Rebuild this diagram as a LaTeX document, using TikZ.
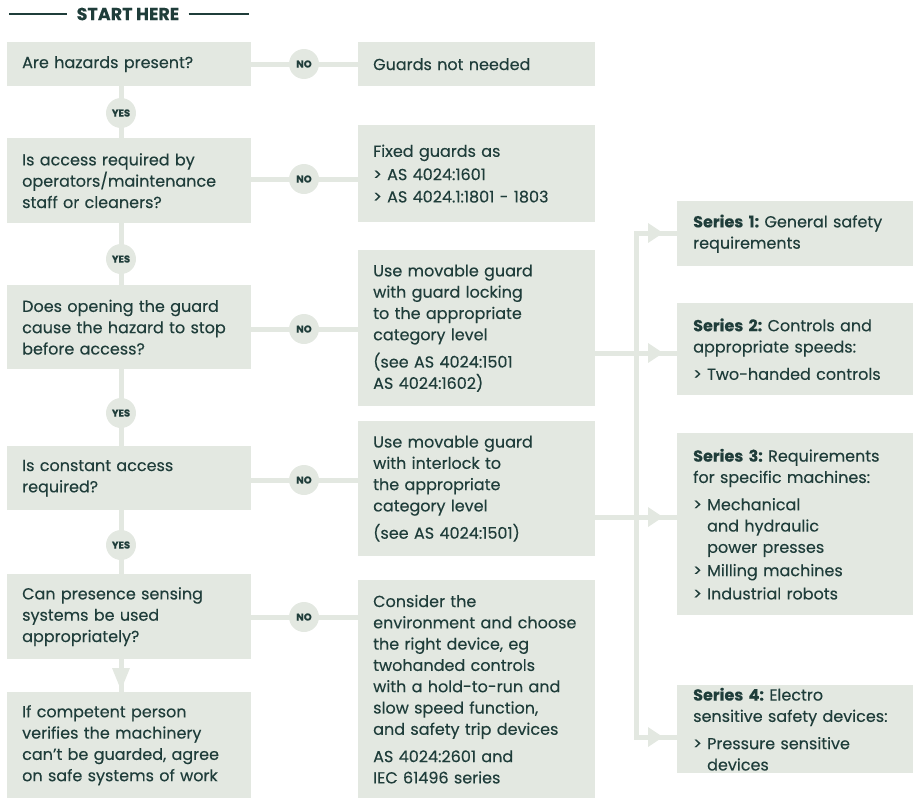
\documentclass[tikz,border=0pt]{standalone}
\usepackage{fontspec}
\setmainfont{Poppins}[FakeBold=0.25]
\usetikzlibrary{backgrounds,calc}
\definecolor{boxc}{HTML}{E3E8E1}
\definecolor{txtc}{HTML}{1F3D3A}
\begin{document}
\begin{tikzpicture}[x=1pt,y=-1pt,
  box/.style={draw=none, fill=boxc, rectangle, anchor=north west, inner xsep=15pt, inner ysep=0pt,
    align=left, text=txtc, font=\fontsize{16}{21.3}\selectfont},
  lbox/.style={box, text width=214pt},
  mbox/.style={box, text width=207pt},
  rbox/.style={box, inner xsep=16pt, text width=204pt},
  yn/.style={circle, fill=boxc, minimum size=30pt, inner sep=0pt, text=txtc, font=\fontsize{10}{12}\selectfont\bfseries},
  conn/.style={draw=boxc, line width=5pt, line join=miter},
  tipc/.style={fill=boxc, draw=none}]
\useasboundingbox (0,0) rectangle (920,803);

% title
\node[font=\fontsize{17.5}{20}\selectfont\bfseries, text=txtc, inner xsep=9pt] (start) at (128,14) {START HERE};
\coordinate (tl) at (9,14);
\coordinate (tr) at (249,14);
\draw[txtc, line width=1.2pt] (tl) -- (start.west);
\draw[txtc, line width=1.2pt] (start.east) -- (tr);

% left column
\node[lbox, minimum height=44pt] (A) at (7,42) {Are hazards present?};
\node[lbox, minimum height=85pt] (B) at (7,138) {Is access required by\\operators/maintenance\\staff or cleaners?};
\node[lbox, minimum height=84pt] (C) at (7,285) {Does opening the guard\\cause the hazard to stop\\before access?};
\node[lbox, minimum height=64pt] (D) at (7,446) {Is constant access\\required?};
\node[lbox, minimum height=85pt] (E) at (7,574) {Can presence sensing\\systems be used\\appropriately?};
\node[lbox, minimum height=106pt] (F) at (7,692) {If competent person\\verifies the machinery\\can’t be guarded, agree\\on safe systems of work};

% middle column
\node[mbox, minimum height=44pt] (M1) at (358,42) {Guards not needed};
\node[mbox, minimum height=97pt] (M2) at (358,125) {Fixed guards as\\[2pt]> AS 4024:1601\\[1pt]> AS 4024.1:1801 - 1803};
\node[mbox, minimum height=156pt] (M3) at (358,250) {Use movable guard\\with guard locking\\to the appropriate\\category level\\[6pt](see AS 4024:1501\\AS 4024:1602)};
\node[mbox, minimum height=135pt] (M4) at (358,421) {Use movable guard\\with interlock to\\the appropriate\\category level\\[6pt](see AS 4024:1501)};
\node[mbox, minimum height=218pt] (M5) at (358,580) {Consider the\\environment and choose\\the right device, eg\\twohanded controls\\with a hold-to-run and\\slow speed function,\\and safety trip devices\\[6pt]AS 4024:2601 and\\IEC 61496 series};

% right column
\node[rbox, minimum height=65pt] (S1) at (677,201) {\textbf{Series 1:}~General safety\\requirements};
\node[rbox, minimum height=92pt] (S2) at (677,303) {\textbf{Series 2:}~Controls and\\appropriate speeds:\\[6pt]> Two-handed controls};
\node[rbox, minimum height=182pt] (S3) at (677,433) {\textbf{Series 3:}~Requirements\\for specific machines:\\[6pt]> Mechanical\\\hphantom{> }and hydraulic\\\hphantom{> }power presses\\[2pt]> Milling machines\\[2pt]> Industrial robots};
\node[rbox, minimum height=88pt] (S4) at (677,685) {\textbf{Series 4:}~Electro\\sensitive safety devices:\\[6pt]> Pressure sensitive\\\hphantom{> }devices};

% yes / no circles
\node[yn] (y1) at (121,113) {YES};
\node[yn] (y2) at (121,259) {YES};
\node[yn] (y3) at (121,413) {YES};
\node[yn] (y4) at (121,545) {YES};
\node[yn] (n1) at (304,64) {NO};
\node[yn] (n2) at (304,179) {NO};
\node[yn] (n3) at (304,329) {NO};
\node[yn] (n4) at (304,480) {NO};
\node[yn] (n5) at (304,617) {NO};

% bus junctions
\coordinate (j1) at (636,233);
\coordinate (j2) at (636,353);
\coordinate (j3) at (636,517);
\coordinate (j4) at (636,737);

\begin{scope}[on background layer]
  % vertical yes connectors
  \draw[conn] (y1 |- A.south) -- (y1 |- B.north);
  \draw[conn] (y2 |- B.south) -- (y2 |- C.north);
  \draw[conn] (y3 |- C.south) -- (y3 |- D.north);
  \draw[conn] (y4 |- D.south) -- (y4 |- E.north);
  \draw[conn] (y4 |- E.south) -- (y4 |- F.north);
  % no connectors
  \draw[conn] (A.east |- n1) -- (M1.west |- n1);
  \draw[conn] (B.east |- n2) -- (M2.west |- n2);
  \draw[conn] (C.east |- n3) -- (M3.west |- n3);
  \draw[conn] (D.east |- n4) -- (M4.west |- n4);
  \draw[conn] (E.east |- n5) -- (M5.west |- n5);
  % series bus
  \draw[conn] (S1.west |- j1) -- (j1) -- (j4) -- (S4.west |- j4);
  \draw[conn] (M3.east |- j2) -- (S2.west |- j2);
  \draw[conn] (M4.east |- j3) -- (S3.west |- j3);
\end{scope}

% arrow heads
\fill[tipc] ($(y4 |- F.north)+(0,-2)$) -- ++(-9,-22) -- ++(18,0) -- cycle;
\foreach \s/\j in {S1/j1,S2/j2,S3/j3,S4/j4}{
  \fill[tipc] ($(\s.west |- \j)+(-14,0)$) -- ++(-15,-10) -- ++(0,20) -- cycle;
}
\end{tikzpicture}
\end{document}
